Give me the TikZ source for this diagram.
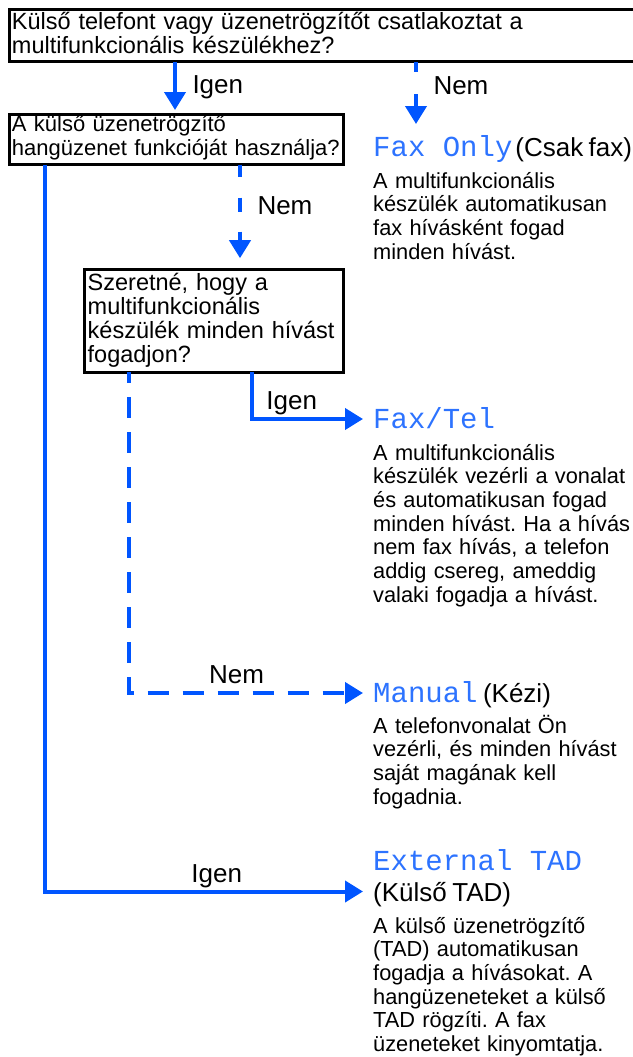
\documentclass[tikz,border=0pt]{standalone}
\usepackage{fontspec}
\setmainfont{Liberation Sans}[WordSpace=0.75]
\setmonofont{Liberation Mono}
\usepackage{xcolor}
\usetikzlibrary{arrows.meta, positioning}
\frenchspacing

\definecolor{flowblue}{RGB}{0,85,255}
\definecolor{lcdblue}{RGB}{45,115,255}
\newcommand{\qfont}{\fontsize{23.5}{23.5}\selectfont}
\newcommand{\dfont}{\fontsize{21.8}{23.7}\selectfont}
\newcommand{\lfont}{\fontsize{26}{28}\selectfont}
\newcommand{\lcd}[1]{{\ttfamily\fontsize{29}{29}\selectfont\color{lcdblue}#1}}

\begin{document}
\begin{tikzpicture}[x=1pt, y=-1pt,
    question/.style={draw, line width=3pt, anchor=base west, align=left, font=\qfont,
        inner xsep=3pt, inner ysep=0pt, outer sep=0pt},
    answer/.style={anchor=base west, font=\lfont, inner xsep=10pt, inner ysep=0pt,
        text height=18pt, text depth=0pt},
    info/.style={anchor=base west, align=left, font=\dfont, text width=300pt, inner sep=0pt},
    yes/.style={color=flowblue, line width=4pt, -{Triangle[length=18pt, width=21pt]}},
    no/.style={yes, dash pattern=on 21pt off 14pt},
    lbl/.style={font=\lfont, text=black, text depth=0.25em, inner xsep=3.5pt, inner ysep=5pt}]

    \useasboundingbox (0,0) rectangle (632,1057);

    \node[question, text width=625pt, text height=20pt, text depth=32pt] (qphone) at (9,30)
        {Külső telefont vagy üzenetrögzítőt csatlakoztat a\\multifunkcionális készülékhez?};
    \node[question, font=\fontsize{22}{23.5}\selectfont, text width=328.5pt, text height=17.5pt, text depth=33pt] (qtad) at (9,131.5)
        {A külső üzenetrögzítő\\hangüzenet funkcióját használja?};
    \node[question, font=\fontsize{23.5}{24}\selectfont, text width=252.3pt, text height=20.3pt, text depth=82pt] (qall) at (84.7,290)
        {Szeretné, hogy a\\multifunkcionális\\készülék minden hívást\\fogadjon?};

    \node[answer] (faxonly) at (363,156) {\lcd{Fax Only}\hspace{3pt}(Csak fax)};
    \node[info] (faxonlyinfo) at (373,188) {A multifunkcionális\\készülék automatikusan\\fax hívásként fogad\\minden hívást.};

    \node[answer] (faxtel) at (363,428) {\lcd{Fax/Tel}};
    \node[info] (faxtelinfo) at (373,460) {A multifunkcionális\\készülék vezérli a vonalat\\és automatikusan fogad\\minden hívást. Ha a hívás\\nem fax hívás, a telefon\\addig csereg, ameddig\\valaki fogadja a hívást.};

    \node[answer] (manual) at (363,702) {\lcd{Manual} (Kézi)};
    \node[info] (manualinfo) at (373,733) {A telefonvonalat Ön\\vezérli, és minden hívást\\saját magának kell\\fogadnia.};

    \node[answer] (exttad) at (363,870) {\lcd{External TAD}};
    \node[answer, text height=19pt] (extsub) at (363,901) {(Külső TAD)};
    \node[info] (exttadinfo) at (373,933) {A külső üzenetrögzítő\\(TAD) automatikusan\\fogadja a hívásokat. A\\hangüzeneteket a külső\\TAD rögzíti. A fax\\üzeneteket kinyomtatja.};

    \coordinate (tofax) at (416,124);

    \draw[yes, shorten >=4pt] ([xshift=166pt]qphone.south west) -- node[lbl, right=12pt, pos=0.46] {Igen} ([xshift=166pt]qtad.north west);
    \draw[no, dash pattern=on 10pt off 22pt on 40pt] ([xshift=407pt]qphone.south west) -- node[lbl, right=12pt, pos=0.4] {Nem} (tofax);

    \draw[yes] ([xshift=36pt]qtad.south west) |- node[lbl, above, pos=0.77] {Igen} (extsub.west);
    \draw[no, dash pattern=on 12pt off 21pt on 14pt off 20pt on 40pt, shorten >=11.5pt] ([xshift=231pt]qtad.south west) -- node[lbl, right=12pt, pos=0.405] {Nem} ([xshift=155.3pt]qall.north west);

    \draw[yes] ([xshift=167pt]qall.south west) |- node[lbl, above, pos=0.68] {Igen} (faxtel.west);
    \draw[no, dash phase=10pt] ([xshift=44pt]qall.south west) |- node[lbl, above, pos=0.73] {Nem} (manual.west);

\end{tikzpicture}
\end{document}
